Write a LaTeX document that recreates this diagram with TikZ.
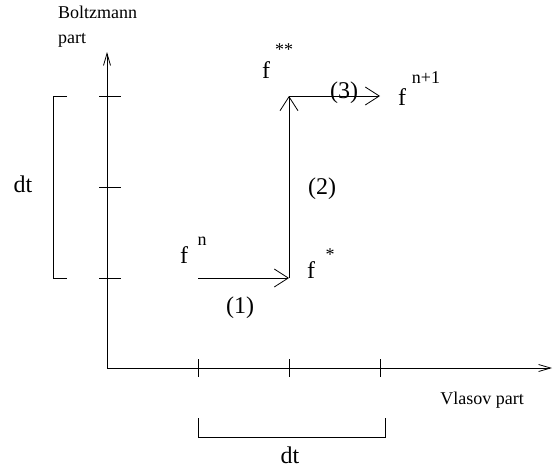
\documentclass[tikz,border=0pt]{standalone}
\usepackage{fontspec}
\setmainfont{Liberation Serif}
\usetikzlibrary{arrows.meta}

\begin{document}
\begin{tikzpicture}[x=1pt, y=-1pt,
  axis/.style={line width=0.8pt, -{Straight Barb[length=12pt, width=7pt]}},
  splitarrow/.style={line width=0.8pt, -{Straight Barb[length=14pt, width=18pt]}},
  tick/.style={line width=0.8pt},
  big/.style={inner sep=0pt, anchor=base, font=\fontsize{24}{28}\selectfont},
  small/.style={inner sep=0pt, anchor=base, font=\fontsize{18}{22}\selectfont}
]
  \useasboundingbox (0,0) rectangle (553,471);

  % Axes
  \coordinate (O) at (107,368);
  \coordinate (ytop) at (107,52);
  \coordinate (xend) at (552,368);
  \draw[axis] (O) -- (ytop);
  \draw[axis] (O) -- (xend);
  \node[small, anchor=base west] (bname) at (58,18) {Boltzmann};
  \node[small, anchor=base west] (bpart) at (58,43) {part};
  \node[small] (vname) at (482,404) {Vlasov part};

  % Ticks on both axes
  \foreach \y in {96,187,278}{
    \draw[tick] (99,\y) -- (121,\y);
  }
  \foreach \x in {198,289,380}{
    \draw[tick] (\x,359) -- (\x,377);
  }

  % Brackets for the time step
  \draw[tick] (67,96) -- (53,96) -- (53,278) -- (67,278);
  \node[big] (dtleft) at (23,192) {dt};
  \draw[tick] (198,418) -- (198,437) -- (385,437) -- (385,418);
  \node[big] (dtbottom) at (290,463) {dt};

  % Splitting steps
  \coordinate (pn) at (198,278);
  \coordinate (pstar) at (289,278);
  \coordinate (pstarstar) at (289,96);
  \coordinate (pnext) at (380,96);
  \draw[splitarrow] (pn) -- (pstar);
  \draw[splitarrow] (pstar) -- (pstarstar);
  \draw[splitarrow] (pstarstar) -- (pnext);
  \node[big] (step1) at (240,313) {(1)};
  \node[big] (step2) at (322,194) {(2)};
  \node[big] (step3) at (344,98) {(3)};

  % Distribution functions
  \node[big] (fn) at (184,263) {f};
  \node[small] (fnsup) at (202,245) {n};
  \node[big] (fs) at (311,278) {f};
  \node[small] (fssup) at (330,260) {*};
  \node[big] (fss) at (266,78) {f};
  \node[small] (fsssup) at (284,55) {**};
  \node[big] (fnext) at (402,105) {f};
  \node[small] (fnextsup) at (426,83) {n+1};
\end{tikzpicture}
\end{document}
